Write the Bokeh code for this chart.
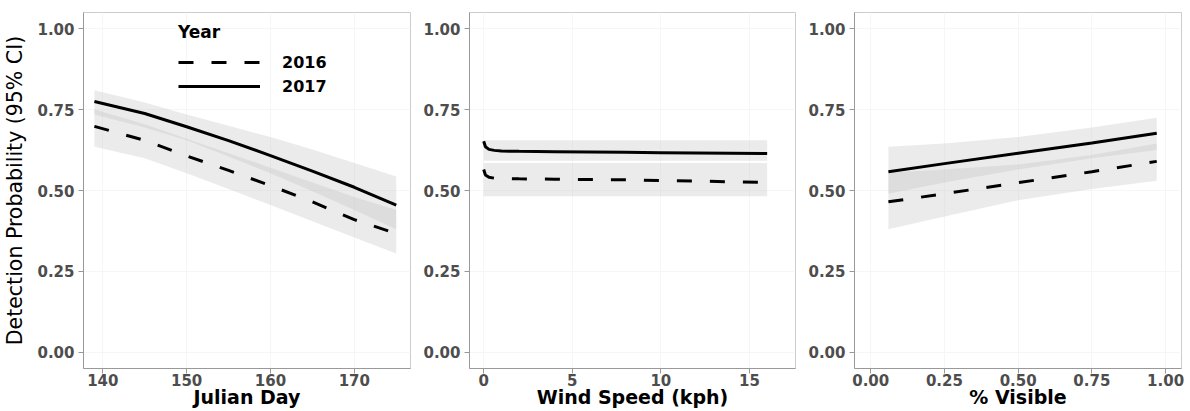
from bokeh.plotting import figure
from bokeh.layouts import row
from bokeh.models import Range1d, FixedTicker, PrintfTickFormatter, Legend, LegendItem
from bokeh.embed import file_html
from bokeh.resources import INLINE

# ---------------- data ----------------
julian_day = [139, 145, 150, 155, 160, 165, 170, 175]
jd_2017 = [0.775, 0.738, 0.697, 0.654, 0.608, 0.560, 0.510, 0.455]
jd_2017_lo = [0.735, 0.695, 0.655, 0.605, 0.553, 0.498, 0.440, 0.380]
jd_2017_hi = [0.810, 0.772, 0.735, 0.700, 0.665, 0.627, 0.585, 0.543]
jd_2016 = [0.698, 0.655, 0.607, 0.562, 0.515, 0.465, 0.410, 0.367]
jd_2016_lo = [0.635, 0.600, 0.553, 0.505, 0.455, 0.405, 0.355, 0.305]
jd_2016_hi = [0.750, 0.705, 0.660, 0.615, 0.570, 0.525, 0.480, 0.440]

wind_speed = [0, 0.1, 0.3, 0.6, 1, 2, 4, 6, 8, 10, 12, 14, 16]
ws_2017 = [0.652, 0.635, 0.627, 0.624, 0.622, 0.621, 0.620, 0.619, 0.618, 0.617, 0.616, 0.615, 0.614]
ws_2017_lo = [0.592] * 13
ws_2017_hi = [0.655] * 13
ws_2016 = [0.565, 0.548, 0.541, 0.538, 0.537, 0.536, 0.535, 0.534, 0.533, 0.531, 0.529, 0.527, 0.525]
ws_2016_lo = [0.482] * 13
ws_2016_hi = [0.585] * 13

visible = [0.06, 0.25, 0.50, 0.75, 0.97]
vis_2017 = [0.558, 0.583, 0.615, 0.647, 0.677]
vis_2017_lo = [0.490, 0.525, 0.565, 0.600, 0.625]
vis_2017_hi = [0.635, 0.645, 0.665, 0.695, 0.725]
vis_2016 = [0.465, 0.490, 0.524, 0.558, 0.590]
vis_2016_lo = [0.380, 0.420, 0.470, 0.505, 0.530]
vis_2016_hi = [0.555, 0.565, 0.580, 0.610, 0.645]

y_ticks = [0.0, 0.25, 0.5, 0.75, 1.0]
jd_ticks = [140, 150, 160, 170]
ws_ticks = [0, 5, 10, 15]
vis_ticks = [0.0, 0.25, 0.5, 0.75, 1.0]

FONT = "DejaVu Sans"
DASH = "15 18"


def make_fig(width, bl, br, xr, xticks, xfmt, xlabel, ylabel=None):
    p = figure(width=width, height=411, x_range=Range1d(*xr), y_range=Range1d(-0.05, 1.05),
               output_backend="svg", toolbar_location=None,
               min_border_left=bl, min_border_right=br, min_border_top=12, min_border_bottom=43)
    p.background_fill_color = "white"
    p.border_fill_color = "white"
    p.outline_line_color = "#cccccc"
    p.outline_line_width = 1
    p.grid.grid_line_color = "#f6f6f6"
    p.grid.grid_line_width = 1
    p.xaxis.ticker = FixedTicker(ticks=xticks)
    p.yaxis.ticker = FixedTicker(ticks=y_ticks)
    p.xaxis.formatter = PrintfTickFormatter(format=xfmt)
    p.yaxis.formatter = PrintfTickFormatter(format="%.2f")
    for ax in (p.xaxis, p.yaxis):
        ax.axis_line_color = "#999999"
        ax.axis_line_width = 1
        ax.major_tick_line_color = "#999999"
        ax.major_tick_out = 5
        ax.major_tick_in = 0
        ax.minor_tick_line_color = None
        ax.major_label_text_font = FONT
        ax.major_label_text_font_style = "bold"
        ax.major_label_text_font_size = "15px"
        ax.major_label_text_color = "#4d4d4d"
    p.yaxis.major_label_standoff = 4
    p.xaxis.major_label_standoff = 0
    p.xaxis.axis_label = xlabel
    p.xaxis.axis_label_text_font = FONT
    p.xaxis.axis_label_text_font_style = "bold"
    p.xaxis.axis_label_text_font_size = "19px"
    p.xaxis.axis_label_text_color = "black"
    p.xaxis.axis_label_standoff = -3
    if ylabel:
        p.yaxis.axis_label = ylabel
        p.yaxis.axis_label_text_font = FONT
        p.yaxis.axis_label_text_font_style = "normal"
        p.yaxis.axis_label_text_font_size = "20.5px"
        p.yaxis.axis_label_text_color = "black"
        p.yaxis.axis_label_standoff = 7
    return p


def draw(p, x, y16, lo16, hi16, y17, lo17, hi17):
    p.varea(x=x, y1=lo17, y2=hi17, fill_color="#bdbdbd", fill_alpha=0.3)
    p.varea(x=x, y1=lo16, y2=hi16, fill_color="#bdbdbd", fill_alpha=0.3)
    r16 = p.line(x, y16, line_color="black", line_width=3, line_dash=DASH)
    r17 = p.line(x, y17, line_color="black", line_width=3)
    return r16, r17


p1 = make_fig(420, 81, 10, (137.7, 176.7), jd_ticks, "%d", "Julian Day",
              "Detection Probability (95% CI)")
r16, r17 = draw(p1, julian_day, jd_2016, jd_2016_lo, jd_2016_hi, jd_2017, jd_2017_lo, jd_2017_hi)

legend = Legend(items=[LegendItem(label="2016", renderers=[r16]),
                       LegendItem(label="2017", renderers=[r17])],
                title="Year", location=(95, 272))
legend.title_text_font = FONT
legend.title_text_font_style = "bold"
legend.title_text_font_size = "17px"
legend.title_text_color = "black"
legend.title_standoff = 10
legend.label_text_font = FONT
legend.label_text_font_style = "bold"
legend.label_text_font_size = "16px"
legend.label_text_color = "black"
legend.glyph_width = 82
legend.glyph_height = 20
legend.label_height = 20
legend.label_standoff = 22
legend.spacing = 4
legend.padding = 0
legend.margin = 0
legend.border_line_alpha = 0
legend.background_fill_alpha = 0
p1.add_layout(legend)

p2 = make_fig(385, 46, 10, (-0.8, 17.6), ws_ticks, "%d", "Wind Speed (kph)")
draw(p2, wind_speed, ws_2016, ws_2016_lo, ws_2016_hi, ws_2017, ws_2017_lo, ws_2017_hi)

p3 = make_fig(385, 46, 9, (-0.055, 1.054), vis_ticks, "%.2f", "% Visible")
draw(p3, visible, vis_2016, vis_2016_lo, vis_2016_hi, vis_2017, vis_2017_lo, vis_2017_hi)

layout = row(p1, p2, p3, spacing=0)
open("out.html", "w").write(file_html(layout, INLINE))
